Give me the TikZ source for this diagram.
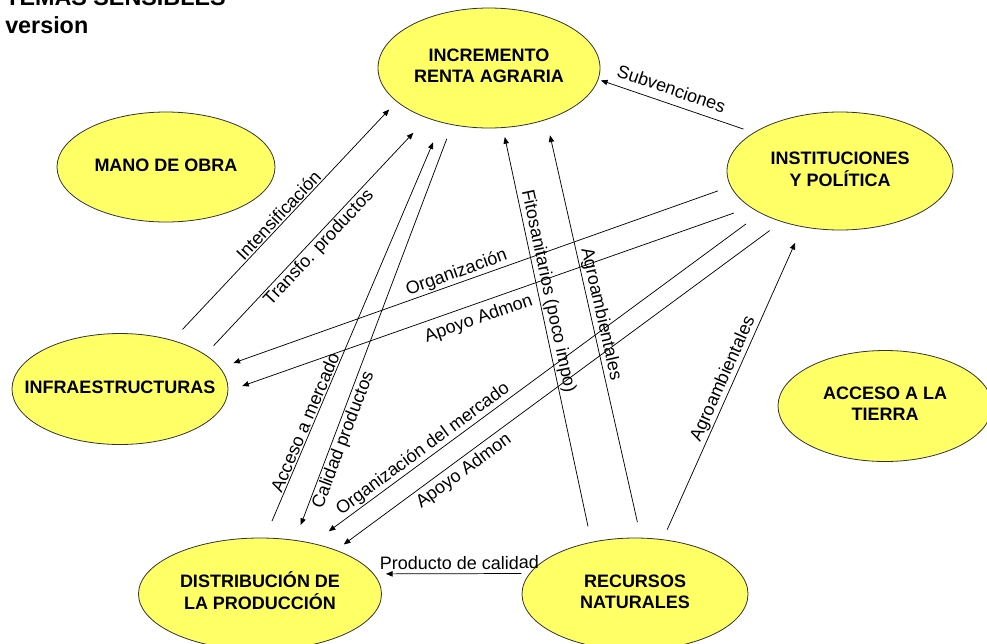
\documentclass[tikz,border=0pt]{standalone}
\usepackage{fontspec}
\setmainfont{Liberation Sans}
\usetikzlibrary{shapes.geometric}
\usetikzlibrary{arrows.meta}
\definecolor{bubbleyellow}{RGB}{255,255,102}
\newcommand{\bubtxt}[1]{\makebox[0pt]{\begin{tabular}{@{}c@{}}#1\end{tabular}}}
\tikzset{
	bubble/.style={ellipse, draw=black!80, line width=0.6pt, fill=bubbleyellow, inner sep=0pt, font=\fontsize{13.5}{15.75}\selectfont\bfseries},
	link/.style={line width=0.55pt, -{Triangle[length=5pt,width=4pt]}},
	tag/.style={font=\fontsize{13.5}{15.75}\selectfont, sloped, inner sep=1pt}
}
\begin{document}
\begin{tikzpicture}[x=0.75pt,y=-0.75pt]
	\useasboundingbox (0,0) rectangle (987,643);
	\node [anchor=base west, inner sep=0pt, font=\fontsize{17.5}{21}\selectfont\bfseries] at (5,5) (title) {TEMAS SENSIBLES};
	\node [anchor=base west, inner sep=0pt, font=\fontsize{17.5}{21}\selectfont\bfseries] at (5,33) (version) {version};
	
	\node [bubble, minimum width=166.5pt, minimum height=90pt] at (489,68) (renta) {\bubtxt{INCREMENTO\\RENTA AGRARIA}};
	\node [bubble, minimum width=163.5pt, minimum height=82.5pt] at (166,167) (mano) {\bubtxt{MANO DE OBRA}};
	\node [bubble, minimum width=169.5pt, minimum height=88.5pt] at (840,171) (inst) {\bubtxt{INSTITUCIONES\\Y POLÍTICA}};
	\node [bubble, minimum width=162pt, minimum height=83.25pt] at (120,389) (infra) {\bubtxt{INFRAESTRUCTURAS}};
	\node [bubble, minimum width=160.5pt, minimum height=83.25pt] at (885,406) (acceso) {\bubtxt{ACCESO A LA\\TIERRA}};
	\node [bubble, minimum width=182.25pt, minimum height=84pt] at (260,594) (distrib) {\bubtxt{DISTRIBUCIÓN DE\\LA PRODUCCIÓN}};
	\node [bubble, minimum width=169.5pt, minimum height=84pt] at (635,594) (recursos) {\bubtxt{RECURSOS\\NATURALES}};
	
	\draw [link, shorten <=11pt, shorten >=8pt] (infra.43) -- node [tag, above, pos=0.5] {Intensificación} (renta.200);
	\draw [link, shorten <=9pt, shorten >=15pt] (infra.22) -- node [tag, below, pos=0.48] {Transfo. productos} (renta.219);
	\draw [link, shorten <=13.5pt, shorten >=16pt] (distrib.85) -- node [tag, above, pos=0.27] {Acceso a mercado} (renta.229);
	\draw [link, shorten <=11pt, shorten >=12pt] (renta.237) -- node [tag, below, pos=0.75] {Calidad productos} (distrib.57);
	\draw [link, shorten <=12pt, shorten >=7pt] (recursos.130) -- node [tag, above, pos=0.6] {Fitosanitarios (poco impo)} (renta.283);
	\draw [link, shorten <=12pt, shorten >=12pt] (recursos.84) -- node [tag, above, pos=0.53] {Agroambientales} (renta.318);
	\draw [link, shorten <=8pt, shorten >=13pt] (recursos.63) -- node [tag, above, pos=0.5] {Agroambientales} (inst.236);
	\draw [link, shorten <=8pt, shorten >=2pt] (inst.156) -- node [tag, above=5pt, pos=0.56] {Subvenciones} (renta.354);
	\draw [link, shorten <=10pt, shorten >=10.5pt] (inst.188) -- node [tag, above, pos=0.53] {Organización} (infra.12);
	\draw [link, shorten <=13pt, shorten >=11pt] (inst.202) -- node [tag, below=4pt, pos=0.53] {Apoyo Admon} (infra.359);
	\draw [link, shorten <=13.5pt, shorten >=15pt] (inst.208) -- node [tag, above, pos=0.74] {Organización del mercado} (distrib.44);
	\draw [link, shorten <=11pt, shorten >=7pt] (inst.221) -- node [tag, below=2pt, pos=0.73] {Apoyo Admon} (distrib.30);
	\draw [link, shorten <=6pt, shorten >=9pt] (recursos.169) -- node [tag, above=2pt, pos=0.45] {Producto de calidad} (distrib.10);
\end{tikzpicture}
\end{document}
